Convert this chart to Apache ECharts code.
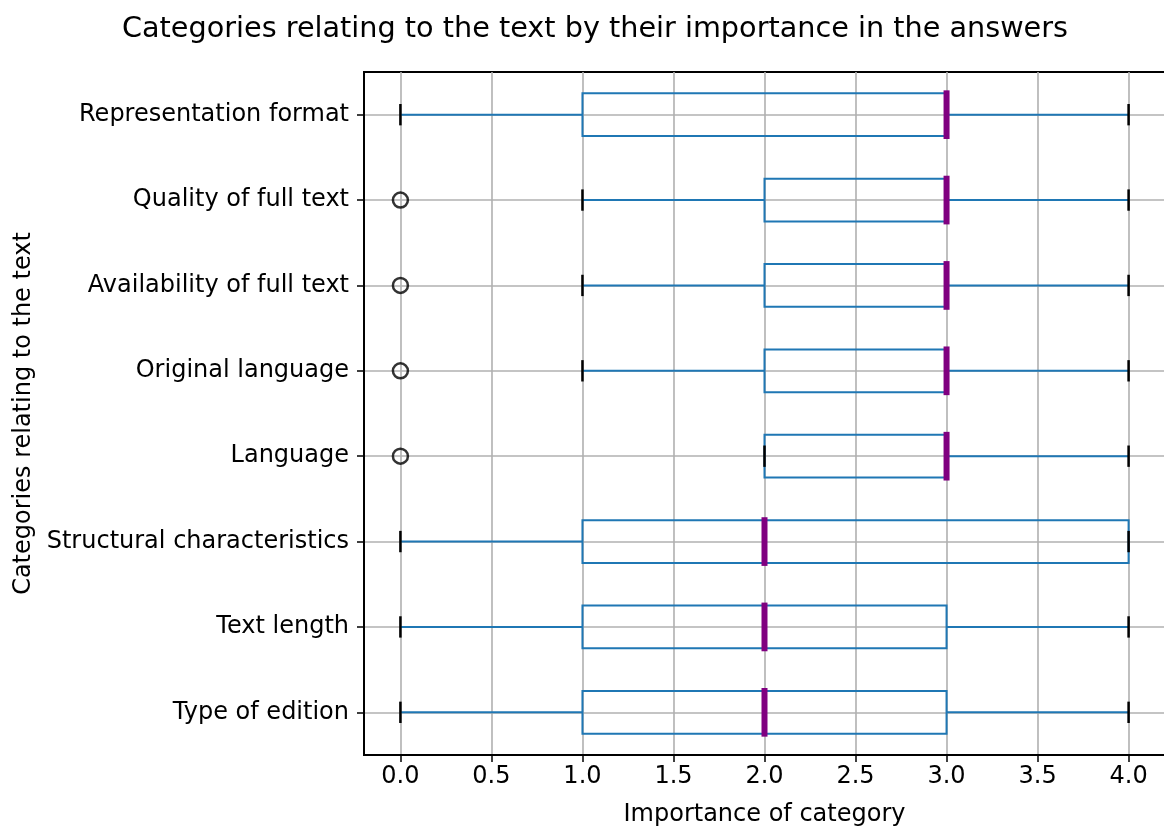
<!DOCTYPE html>
<html>
<head>
<meta charset="utf-8">
<script src="https://cdn.jsdelivr.net/npm/echarts@6/dist/echarts.min.js"></script>
<style>
  html, body { margin: 0; padding: 0; background: #fff; }
  #chart { width: 1164px; height: 829px; }
</style>
</head>
<body>
<div id="chart"></div>
<script>
// Categories listed bottom to top (category axis runs upward)
const categories = [
  'Type of edition',
  'Text length',
  'Structural characteristics',
  'Language',
  'Original language',
  'Availability of full text',
  'Quality of full text',
  'Representation format'
];
// Five-number summaries per category
const whiskerLow  = [0, 0, 0, 2, 1, 1, 1, 0];
const quartile1   = [1, 1, 1, 2, 2, 2, 2, 1];
const medians     = [2, 2, 2, 3, 3, 3, 3, 3];
const quartile3   = [3, 3, 4, 3, 3, 3, 3, 3];
const whiskerHigh = [4, 4, 4, 4, 4, 4, 4, 4];
// Flier points
const outlierCategories = ['Language', 'Original language', 'Availability of full text', 'Quality of full text'];
const outlierValues = [0, 0, 0, 0];
// Tick labels on the importance axis
const xTicks = [0, 0.5, 1, 1.5, 2, 2.5, 3, 3.5, 4];

const FONT = 'DejaVu Sans';
const BOX_COLOR = '#1f77b4';
const MEDIAN_COLOR = '#800080';

const boxRows = categories.map((c, i) => [i, whiskerLow[i], quartile1[i], medians[i], quartile3[i], whiskerHigh[i]]);
const outlierRows = outlierCategories.map((c, i) => [outlierValues[i], c]);

function renderBox(params, api) {
  const idx = api.value(0);
  const lo = api.coord([api.value(1), idx]);
  const q1 = api.coord([api.value(2), idx]);
  const md = api.coord([api.value(3), idx]);
  const q3 = api.coord([api.value(4), idx]);
  const hi = api.coord([api.value(5), idx]);
  const band = api.size([0, 1])[1];
  const bh = band * 0.5;
  const ch = bh / 2;
  const y = lo[1];
  const blue = { stroke: BOX_COLOR, lineWidth: 2, fill: null };
  const black = { stroke: '#000', lineWidth: 2.5 };
  const mw = 6;
  return {
    type: 'group',
    children: [
      { type: 'line', shape: { x1: lo[0], y1: y, x2: q1[0], y2: y }, style: blue },
      { type: 'line', shape: { x1: q3[0], y1: y, x2: hi[0], y2: y }, style: blue },
      { type: 'rect', shape: { x: q1[0], y: y - bh / 2, width: q3[0] - q1[0], height: bh }, style: blue },
      { type: 'line', shape: { x1: lo[0], y1: y - ch / 2, x2: lo[0], y2: y + ch / 2 }, style: black },
      { type: 'line', shape: { x1: hi[0], y1: y - ch / 2, x2: hi[0], y2: y + ch / 2 }, style: black },
      { type: 'line', shape: { x1: md[0], y1: y - bh / 2 - mw / 2, x2: md[0], y2: y + bh / 2 + mw / 2 },
        style: { stroke: MEDIAN_COLOR, lineWidth: mw } }
    ]
  };
}

const chart = echarts.init(document.getElementById('chart'), null, { renderer: 'canvas' });
chart.setOption({
  animation: false,
  backgroundColor: '#fff',
  title: {
    text: 'Categories relating to the text by their importance in the answers',
    left: 590,
    top: 10,
    textAlign: 'center',
    textStyle: { fontFamily: FONT, fontSize: 28.7, fontWeight: 'normal', color: '#000' }
  },
  grid: {
    left: 364, top: 72, width: 801, height: 683,
    outerBoundsMode: 'none',
    containLabel: false,
    show: true, borderColor: '#000', borderWidth: 2, backgroundColor: 'transparent'
  },
  xAxis: {
    type: 'value',
    min: -0.2,
    max: 4.2,
    name: 'Importance of category',
    nameLocation: 'middle',
    nameGap: 48,
    nameTextStyle: { fontFamily: FONT, fontSize: 24, color: '#000' },
    axisLine: { show: true, onZero: false, lineStyle: { color: '#000', width: 2 } },
    axisTick: { show: true, length: 7, customValues: xTicks, lineStyle: { color: '#000', width: 1.5 } },
    axisLabel: {
      customValues: xTicks,
      margin: 10,
      fontFamily: FONT, fontSize: 24, color: '#000',
      formatter: v => Number(v).toFixed(1)
    },
    splitLine: { show: true, lineStyle: { color: '#b0b0b0', width: 1.6 } }
  },
  yAxis: {
    type: 'category',
    data: categories,
    name: 'Categories relating to the text',
    nameLocation: 'middle',
    nameGap: 326,
    nameTextStyle: { fontFamily: FONT, fontSize: 24, color: '#000' },
    axisLine: { show: true, onZero: false, lineStyle: { color: '#000', width: 2 } },
    axisTick: { show: true, length: 7, alignWithLabel: true, lineStyle: { color: '#000', width: 1.5 } },
    axisLabel: { margin: 15, fontFamily: FONT, fontSize: 24, color: '#000' },
    splitLine: { show: true, alignWithLabel: true, lineStyle: { color: '#b0b0b0', width: 1.6 } }
  },
  series: [
    {
      type: 'custom',
      renderItem: renderBox,
      data: boxRows,
      encode: { x: [1, 2, 3, 4, 5], y: 0 },
      z: 3
    },
    {
      type: 'scatter',
      data: outlierRows,
      symbol: 'circle',
      symbolSize: 15,
      itemStyle: { color: 'rgba(0,0,0,0)', borderColor: '#000', borderWidth: 2.5 },
      z: 4
    }
  ]
});
</script>
</body>
</html>
